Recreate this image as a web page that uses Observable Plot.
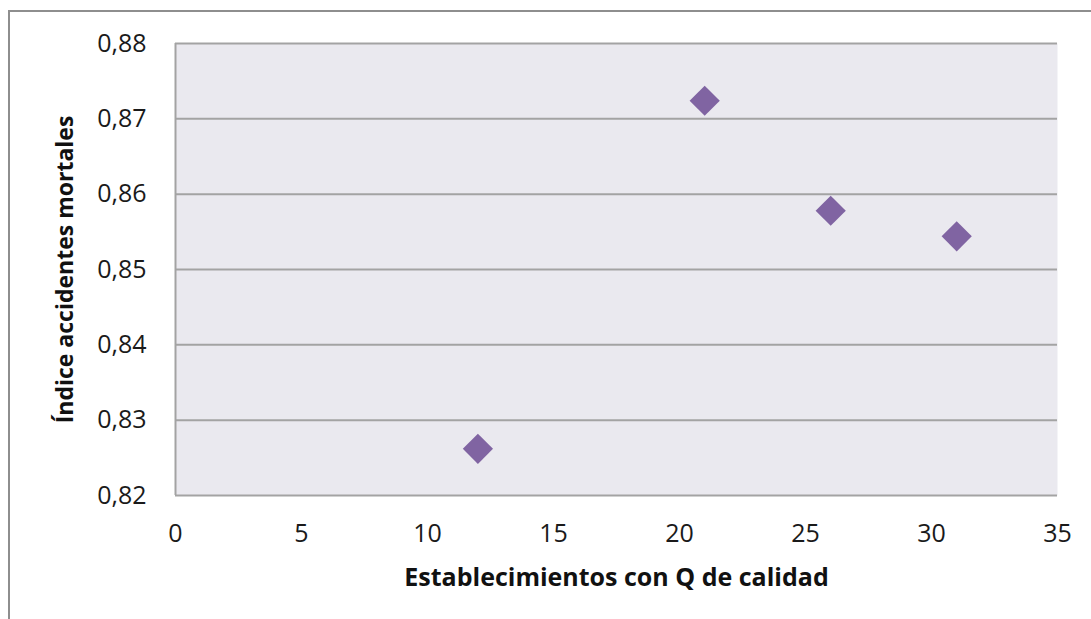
<!DOCTYPE html>
<html>
<head>
<meta charset="utf-8">
<script src="https://cdn.jsdelivr.net/npm/d3@7"></script>
<script src="https://cdn.jsdelivr.net/npm/@observablehq/plot@0.6"></script>
<style>
  html, body { margin: 0; padding: 0; background: #fff; overflow: hidden; }
  #wrap { position: relative; width: 1091px; height: 619px; }
  #frame { position: absolute; left: 8px; top: 10px; width: 1200px; height: 700px;
           border-left: 2px solid #8e8e8e; border-top: 2px solid #8e8e8e; pointer-events: none; }
  #chart { position: absolute; left: 0; top: 0; }
</style>
</head>
<body>
<div id="wrap"><div id="chart"></div><div id="frame"></div></div>
<script>
const establecimientos = [12, 21, 26, 31];
const indiceMortales = [0.8262, 0.8724, 0.8578, 0.8544];
const xTicks = [0, 5, 10, 15, 20, 25, 30, 35];
const yTicks = [0.82, 0.83, 0.84, 0.85, 0.86, 0.87, 0.88];

const data = establecimientos.map((x, i) => ({x, y: indiceMortales[i]}));
const fmtY = d => d.toFixed(2).replace(".", ",");

const chart = Plot.plot({
  width: 1091,
  height: 619,
  marginLeft: 175,
  marginRight: 34,
  marginTop: 43,
  marginBottom: 124,
  style: { fontFamily: "'Open Sans', sans-serif", fontSize: "25px", color: "#1a1a1a", background: "transparent" },
  x: { domain: [0, 35], ticks: xTicks, tickSize: 0, tickPadding: 29, tickFormat: d => String(d),
       label: "Establecimientos con Q de calidad", labelAnchor: "center", labelOffset: 90, labelArrow: "none" },
  y: { domain: [0.82, 0.88], ticks: yTicks, tickSize: 0, tickPadding: 29, tickFormat: fmtY,
       label: "Índice accidentes mortales", labelAnchor: "center", labelOffset: 119, labelArrow: "none" },
  marks: [
    Plot.frame({ fill: "#eae9ef", stroke: null }),
    Plot.ruleY(yTicks, { stroke: "#a3a3a3", strokeWidth: 2 }),
    Plot.ruleX([0], { stroke: "#a3a3a3", strokeWidth: 2 }),
    Plot.dot(data, { x: "x", y: "y", symbol: "diamond2", r: 13.6, fill: "#8064a2", stroke: "none" })
  ]
});

chart.querySelectorAll("[aria-label='x-axis label'] text").forEach(t => {
  t.style.fontWeight = "bold"; t.style.fontSize = "25px"; t.style.fill = "#111";
});
chart.querySelectorAll("[aria-label='y-axis label'] text").forEach(t => {
  t.style.fontWeight = "bold"; t.style.fontSize = "23px"; t.style.fill = "#111";
});
document.getElementById("chart").appendChild(chart);
</script>
</body>
</html>
